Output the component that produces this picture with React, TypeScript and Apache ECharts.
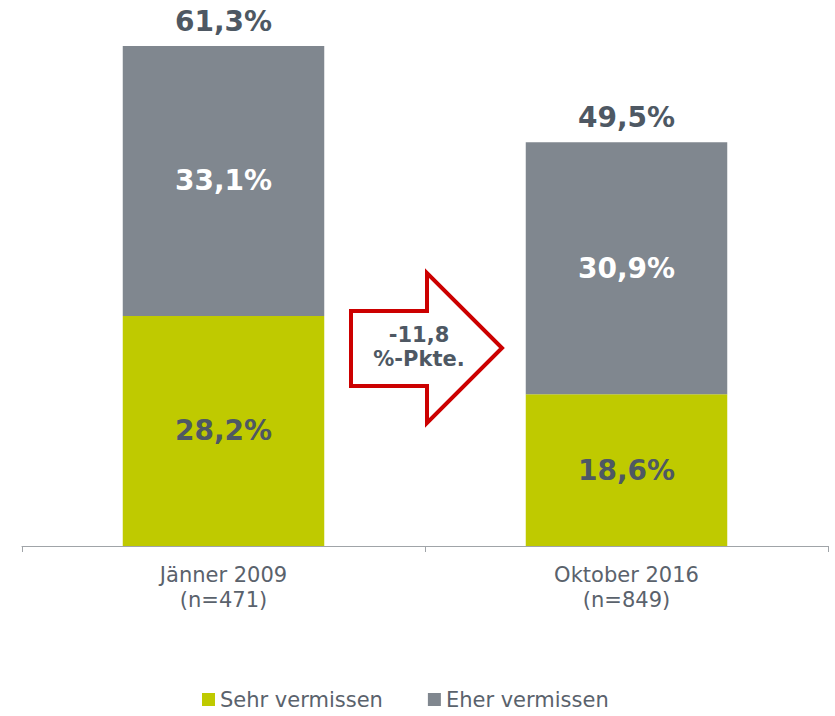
import React, { useEffect, useRef } from "react";
import * as echarts from "echarts";

const categories = ["Jänner 2009\n(n=471)", "Oktober 2016\n(n=849)"];
const sehr = [28.2, 18.6];
const eher = [33.1, 30.9];
const totals = [61.3, 49.5];
const seriesNames = ["Sehr vermissen", "Eher vermissen"];
const arrowText = "-11,8\n%-Pkte.";

const fmt = (v: number) => v.toFixed(1).replace(".", ",") + "%";

export default function App() {
  const ref = useRef<HTMLDivElement>(null);
  useEffect(() => {
    const chart = echarts.init(ref.current!, null, { renderer: "svg" });
    const font = "DejaVu Sans, Verdana, sans-serif";
    chart.setOption({
      animation: false,
      textStyle: { fontFamily: font },
      grid: { left: 22, right: 7, top: 46, bottom: 170 },
      xAxis: {
        type: "category",
        data: categories,
        axisLine: { lineStyle: { color: "#a0a4a8", width: 1 } },
        axisTick: { show: true, length: 6, lineStyle: { color: "#a0a4a8" } },
        axisLabel: { color: "#5a626c", fontSize: 21, lineHeight: 25, margin: 16, fontFamily: font },
      },
      yAxis: { type: "value", min: 0, max: 61.3, show: false, splitLine: { show: false } },
      legend: {
        data: seriesNames,
        top: 687,
        left: 200,
        padding: 2,
        icon: "rect",
        itemWidth: 13,
        itemHeight: 13,
        itemGap: 45,
        textStyle: { color: "#5a626c", fontSize: 21, fontFamily: font },
      },
      series: [
        {
          name: seriesNames[0],
          type: "bar",
          stack: "a",
          barWidth: "50%",
          data: sehr,
          itemStyle: { color: "#bfca00" },
          label: {
            show: true,
            position: "inside",
            formatter: (p: any) => fmt(p.value),
            color: "#4e5863",
            fontWeight: "bold",
            fontSize: 28,
            fontFamily: font,
          },
        },
        {
          name: seriesNames[1],
          type: "bar",
          stack: "a",
          barWidth: "50%",
          data: eher,
          itemStyle: { color: "#80878f" },
          label: {
            show: true,
            position: "inside",
            formatter: (p: any) => fmt(p.value),
            color: "#ffffff",
            fontWeight: "bold",
            fontSize: 28,
            fontFamily: font,
          },
        },
        {
          name: "total",
          type: "bar",
          stack: "a",
          barWidth: "50%",
          data: totals.map(() => 0),
          itemStyle: { color: "transparent" },
          label: {
            show: true,
            position: "top",
            distance: 11,
            formatter: (p: any) => fmt(totals[p.dataIndex]),
            color: "#4e5863",
            fontWeight: "bold",
            fontSize: 28,
            fontFamily: font,
          },
        },
      ],
      graphic: [
        {
          type: "polygon",
          shape: {
            points: [
              [351, 311],
              [427, 311],
              [427, 273],
              [502, 348],
              [427, 423],
              [427, 386],
              [351, 386],
            ],
          },
          style: { fill: "#ffffff", stroke: "#cc0000", lineWidth: 4 },
        },
        {
          type: "text",
          x: 419,
          y: 347,
          style: {
            text: arrowText,
            fill: "#4e5863",
            font: "bold 21px DejaVu Sans, Verdana, sans-serif",
            align: "center",
            verticalAlign: "middle",
            lineHeight: 24,
          },
        },
      ],
    });
    return () => chart.dispose();
  }, []);
  return <div ref={ref} style={{ width: 835, height: 716, position: "absolute", left: 0, top: 0 }} />;
}
